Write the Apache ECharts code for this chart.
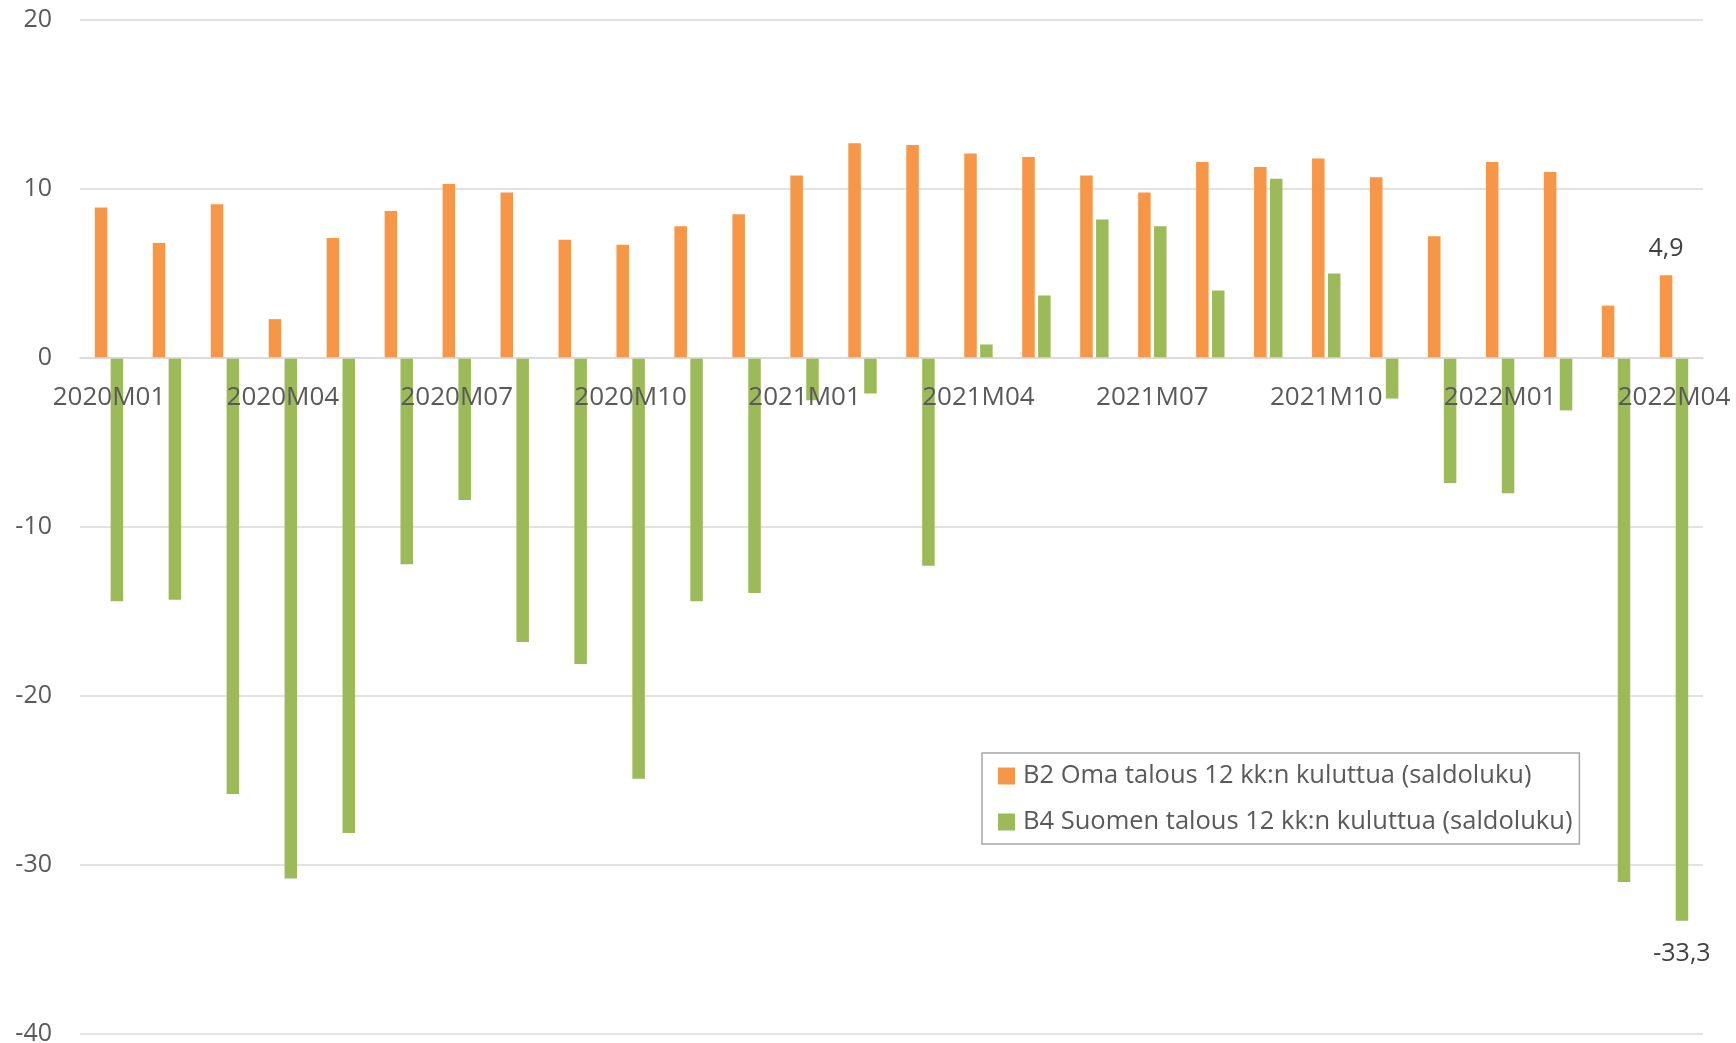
<!DOCTYPE html>
<html>
<head>
<meta charset="utf-8">
<script src="https://cdn.jsdelivr.net/npm/echarts@6/dist/echarts.min.js"></script>
<style>
html,body{margin:0;padding:0;background:#fff;}
#chart{width:1736px;height:1043px;}
</style>
</head>
<body>
<div id="chart"></div>
<script>
const categories = ['2020M01','2020M02','2020M03','2020M04','2020M05','2020M06','2020M07','2020M08','2020M09','2020M10','2020M11','2020M12',
  '2021M01','2021M02','2021M03','2021M04','2021M05','2021M06','2021M07','2021M08','2021M09','2021M10','2021M11','2021M12',
  '2022M01','2022M02','2022M03','2022M04'];
const b2Values = [8.9,6.8,9.1,2.3,7.1,8.7,10.3,9.8,7.0,6.7,7.8,8.5,
  10.8,12.7,12.6,12.1,11.9,10.8,9.8,11.6,11.3,11.8,10.7,7.2,
  11.6,11.0,3.1,4.9];
const b4Values = [-14.4,-14.3,-25.8,-30.8,-28.1,-12.2,-8.4,-16.8,-18.1,-24.9,-14.4,-13.9,
  -2.5,-2.1,-12.3,0.8,3.7,8.2,7.8,4.0,10.6,5.0,-2.4,-7.4,
  -8.0,-3.1,-31.0,-33.3];
const seriesNames = ['B2 Oma talous 12 kk:n kuluttua (saldoluku)','B4 Suomen talous 12 kk:n kuluttua (saldoluku)'];
const yTicks = {min: -40, max: 20, interval: 10};

const FONT = "'Open Sans', 'Noto Sans', sans-serif";
const fmt = v => String(v).replace('.', ',');

const GRID_TOP = 20, GRID_BOTTOM = 9, H = 1043;
const plotH = H - GRID_TOP - GRID_BOTTOM;
// distance from bottom of plot to the zero line (so the category axis sits on zero)
const zeroOffset = plotH * (0 - yTicks.min) / (yTicks.max - yTicks.min);

function withLastLabel(values, position, distance) {
  return values.map((v, i) => i === values.length - 1 ? {
    value: v,
    label: {show: true, position: position, distance: distance, formatter: p => fmt(p.value),
      color: '#404040', fontSize: 25, fontFamily: FONT}
  } : v);
}

const chart = echarts.init(document.getElementById('chart'));
chart.setOption({
  animation: false,
  backgroundColor: '#fff',
  grid: {left: 80, right: 33, top: GRID_TOP, bottom: GRID_BOTTOM, containLabel: false, outerBoundsMode: 'none'},
  legend: {
    orient: 'vertical',
    left: 982, top: 753,
    padding: [8, 7, 7, 16],
    itemGap: 16,
    itemWidth: 17, itemHeight: 17,
    icon: 'rect',
    borderColor: '#a6a6a6', borderWidth: 1.5,
    textStyle: {color: '#595959', fontSize: 25.5, fontFamily: FONT, lineHeight: 30, padding: [0,0,0,3]},
    data: seriesNames
  },
  xAxis: {
    type: 'category',
    data: categories,
    z: 5,
    offset: -zeroOffset,
    axisLine: {show: true, onZero: false, lineStyle: {color: '#d9d9d9', width: 1.5}},
    axisTick: {show: false},
    axisLabel: {interval: 2, margin: 27, color: '#595959', fontSize: 26, fontFamily: FONT, hideOverlap: false}
  },
  yAxis: {
    type: 'value',
    min: yTicks.min, max: yTicks.max, interval: yTicks.interval,
    axisLine: {show: false},
    axisTick: {show: false},
    splitLine: {lineStyle: {color: '#d9d9d9', width: 1.5}},
    axisLabel: {margin: 28, color: '#595959', fontSize: 25, fontFamily: FONT}
  },
  series: [
    {name: seriesNames[0], type: 'bar', data: withLastLabel(b2Values, 'top', 14),
      barWidth: 12.5, barGap: '27%', itemStyle: {color: '#F79646'}},
    {name: seriesNames[1], type: 'bar', data: withLastLabel(b4Values, 'bottom', 21),
      barWidth: 12.5, barGap: '27%', itemStyle: {color: '#9BBB59'}}
  ]
});
</script>
</body>
</html>
